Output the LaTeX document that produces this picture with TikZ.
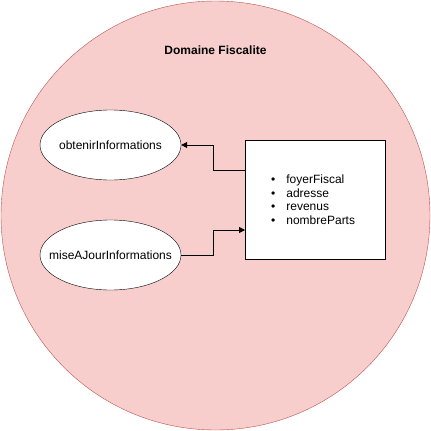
\documentclass[tikz,border=0pt]{standalone}
\usepackage{fontspec}
\setmainfont{Liberation Sans}
\usetikzlibrary{shapes.geometric,arrows.meta}
\definecolor{pinkfill}{HTML}{F8CECC}
\definecolor{redline}{HTML}{B85450}
\tikzset{
  usecase/.style={ellipse,draw=black,fill=white,minimum width=141pt,minimum height=70pt,inner sep=0pt,font=\fontsize{12}{14}\selectfont},
  flow/.style={draw=black,line width=0.8pt,-{Triangle[length=6pt,width=6pt]}},
}
\begin{document}
\begin{tikzpicture}[x=1pt,y=-1pt]
\useasboundingbox (0,0) rectangle (431,431);
\node[circle,draw=redline,fill=pinkfill,minimum size=429pt,inner sep=0pt] (dom) at (215.5,215.5) {};
\node[font=\bfseries\fontsize{12}{14}\selectfont] (title) at (215.5,50) {Domaine Fiscalite};
\node[usecase] (obt) at (110.5,145) {\makebox[0pt]{obtenirInformations}};
\node[usecase] (maj) at (110.5,255) {\makebox[0pt]{miseAJourInformations}};
\node[draw=black,fill=white,minimum width=140pt,minimum height=119pt,inner sep=0pt,anchor=north west] (rect) at (245,140) {};
\node[anchor=west,font=\fontsize{12}{14}\selectfont,align=left,inner sep=0pt] (list) at (271,201) {%
\begin{tabular}{@{}l@{\hspace{11pt}}l@{}}
\textbullet & foyerFiscal\\[-0.5pt]
\textbullet & adresse\\[-0.5pt]
\textbullet & revenus\\[-0.5pt]
\textbullet & nombreParts
\end{tabular}};
\coordinate (r1) at (245,170);
\coordinate (r2) at (245,230);
\draw[flow] (r1) -| (213,145) -- (obt.east);
\draw[flow] (maj.east) -| (213,230) -- (r2);
\end{tikzpicture}
\end{document}
